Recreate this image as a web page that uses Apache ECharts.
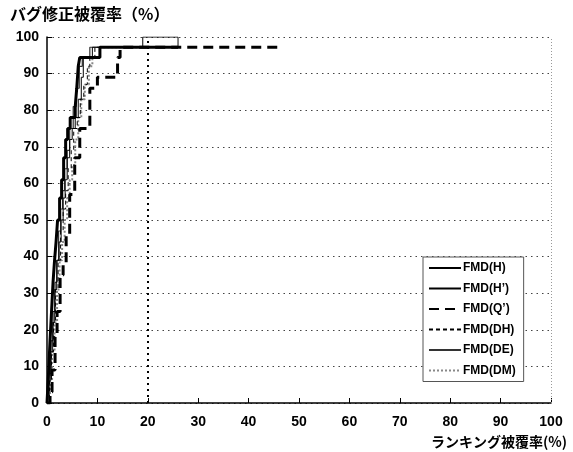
<!DOCTYPE html>
<html><head><meta charset="utf-8">
<script src="https://cdn.jsdelivr.net/npm/echarts@6/dist/echarts.min.js"></script>
<style>html,body{margin:0;padding:0;background:#fff}#c{width:573px;height:452px}</style>
</head><body><div id="c"></div>
<script>
// [ranking coverage %, bug-fix coverage %] — step points
const seriesNames = ["FMD(H)", "FMD(H’)", "FMD(Q’)", "FMD(DH)", "FMD(DE)", "FMD(DM)"];
const dataH  = [[0,0],[0.3,8],[0.6,17],[0.9,25],[1.2,33],[1.5,39],[1.8,44],[2.1,50],[2.5,56],[2.9,61],[3.3,67],[3.7,72],[4.1,75],[4.6,78],[5.6,81],[5.9,86],[6.2,92],[6.5,94.4],[10.5,97.2],[26,97.2]];
const dataH2 = [[0,0],[0.4,8],[0.8,17],[1.2,25],[1.6,33],[2,39],[2.4,44],[2.8,50],[3.2,56],[3.6,61],[4,67],[4.5,72],[5,75],[5.6,78],[6.2,83],[6.8,89],[7.2,94.4],[9,97.2],[19,100],[26,100]];
const dataQ  = [[0,0],[0.6,3],[1,9],[1.6,18],[2,25],[2.6,35],[3.2,38],[3.8,46],[4.5,57],[5.5,67],[6.5,75],[8.5,86],[10,89],[14,94.4],[14.5,97.2],[46,97.2]];
const dataDH = [[0,0],[0.5,6],[0.9,14],[1.3,22],[1.7,31],[2.2,39],[2.7,47],[3.2,53],[3.7,58],[4.2,64],[4.8,69],[5.3,75],[6,78],[6.6,83],[7.3,87],[8,92],[8.5,94.4],[9.5,97.2],[20,97.2]];
const dataDE = [[0,0],[0.3,6],[0.7,14],[1.1,22],[1.5,31],[1.9,39],[2.3,47],[2.7,53],[3.1,58],[3.5,64],[4,69],[4.5,75],[5.2,81],[5.8,86],[6.4,92],[7,94.4],[8.5,97.2],[26,100]];
const dataDM = [[0,0],[0.6,6],[1,14],[1.5,22],[2,31],[2.5,39],[3,44],[3.5,50],[4,56],[4.5,61],[5,65],[5.6,72],[6.2,78],[6.8,83],[7.5,87],[8.3,92],[9,94.4],[10.5,97.2],[20,97.2]];
const xTicks = [0,10,20,30,40,50,60,70,80,90,100];
const yTicks = [0,10,20,30,40,50,60,70,80,90,100];
const yTitle = "バグ修正被覆率（%）";
const xTitle = "ランキング被覆率(%)";
const markX = 20;

const chart = echarts.init(document.getElementById('c'), null, {renderer:'canvas'});
const numFont = {fontFamily:'Liberation Sans, Arial, sans-serif', fontWeight:'bold', fontSize:14, color:'#000'};
const styles = [
  {color:'#000', width:3, type:'solid'},
  {color:'#000', width:1, type:'solid'},
  {color:'#000', width:3, type:[10,6]},
  {color:'#000', width:1, type:[4,3]},
  {color:'#333', width:1.2, type:'solid'},
  {color:'#888', width:2, type:[2,2]}
];
const datas = [dataH, dataH2, dataQ, dataDH, dataDE, dataDM];
const series = datas.map((d,i)=>({
  name: seriesNames[i], type:'line', step:'end', data:d, symbol:'none', showSymbol:false,
  lineStyle: styles[i], itemStyle:{color:styles[i].color}, z: 10-i
}));
series[0].markLine = {
  silent:true, symbol:'none', label:{show:false}, animation:false,
  data:[
    {xAxis: markX, lineStyle:{type:[2,4], width:2, color:'#000'}},
    {xAxis: 100, lineStyle:{type:[1,2], width:1, color:'#999'}}
  ]
};
chart.setOption({
  animation:false,
  backgroundColor:'#fff',
  title:[
    {text:yTitle, left:5, top:1, textStyle:{fontFamily:'Noto Sans CJK JP', fontWeight:'bold', fontSize:16, color:'#000'}},
    {text:xTitle, right:1, top:430, textStyle:{fontFamily:'Noto Sans CJK JP', fontWeight:'bold', fontSize:14, color:'#000'}}
  ],
  grid:{left:47, right:22, top:37, bottom:49},
  legend:{
    orient:'vertical', left:423, top:257, data:seriesNames,
    backgroundColor:'#fff', borderColor:'#555', borderWidth:1, borderRadius:0,
    padding:[5,8,5,5], itemGap:8.5, itemWidth:32, itemHeight:12,
    itemStyle:{color:'rgba(0,0,0,0)', borderWidth:0, opacity:0},
    textStyle:{fontFamily:'Liberation Sans, Arial, sans-serif', fontWeight:'bold', fontSize:12, color:'#000', padding:[0,0,0,-3]}
  },
  xAxis:{
    type:'value', min:0, max:100, interval:10,
    axisLine:{lineStyle:{color:'#000', width:1.5}},
    axisTick:{inside:true, length:5, lineStyle:{color:'#000'}},
    axisLabel:{...numFont, margin:12, formatter:v=>xTicks.includes(v)?String(v):''},
    splitLine:{show:false}
  },
  yAxis:{
    type:'value', min:0, max:100, interval:10,
    axisLine:{show:true, lineStyle:{color:'#000', width:1.5}},
    axisTick:{show:true, inside:true, length:5, lineStyle:{color:'#000'}},
    axisLabel:{...numFont, margin:8, formatter:v=>yTicks.includes(v)?String(v):''},
    splitLine:{show:true, lineStyle:{type:[1.5,4], color:'#444', width:1}}
  },
  series
});
</script></body></html>
